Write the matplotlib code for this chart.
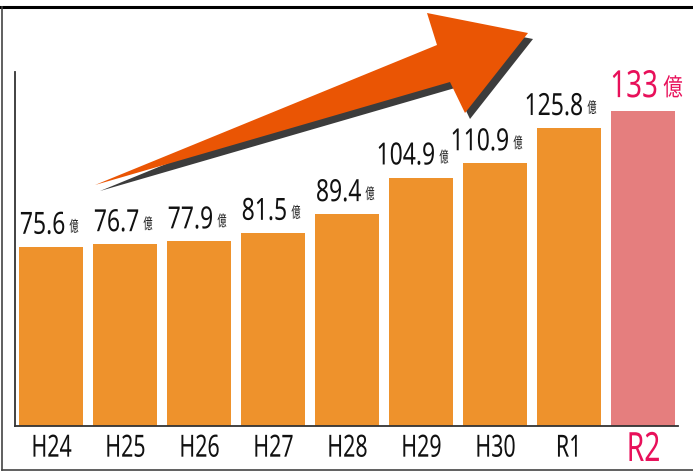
import os
import matplotlib
matplotlib.use('Agg')
import matplotlib.pyplot as plt
from matplotlib import font_manager
from matplotlib.font_manager import FontProperties
from matplotlib.patches import Polygon
from matplotlib.lines import Line2D
from matplotlib.patheffects import AbstractPathEffect
from matplotlib.transforms import Affine2D

# data
years = ['H24', 'H25', 'H26', 'H27', 'H28', 'H29', 'H30', 'R1', 'R2']
values = [75.6, 76.7, 77.9, 81.5, 89.4, 104.9, 110.9, 125.8, 133]
labels = ['75.6', '76.7', '77.9', '81.5', '89.4', '104.9', '110.9', '125.8', '133']
unit = '億'

ORANGE = '#EE922C'
PINK_BAR = '#E57E7E'
PINK_TXT = '#E8105A'
ARROW = '#EA5504'
INK = '#111111'

cjk = ['Noto Sans CJK JP', 'DejaVu Sans']

# look for a condensed latin face (the original labels use a narrow font)
cond_file = None
for f in font_manager.fontManager.ttflist:
    if os.path.basename(f.fname) in ('NotoSans-Condensed.ttf', 'NotoSans-Condensed.otf'):
        cond_file = f.fname
        break


class Squeeze(AbstractPathEffect):
    """narrow the glyphs horizontally"""

    def __init__(self, sx, anchor='center'):
        super().__init__()
        self.sx = sx
        self.anchor = anchor

    def draw_path(self, renderer, gc, tpath, affine, rgbFace=None):
        ext = tpath.get_extents()
        if self.anchor == 'left':
            cx = ext.x0
        elif self.anchor == 'right':
            cx = ext.x1
        else:
            cx = (ext.x0 + ext.x1) / 2
        t = Affine2D().translate(-cx, 0).scale(self.sx, 1).translate(cx, 0)
        renderer.draw_path(gc, tpath, t + affine, rgbFace)


def latin(size):
    if cond_file:
        return FontProperties(fname=cond_file, size=size)
    return FontProperties(family=['Noto Sans', 'DejaVu Sans'], size=size)


def narrow(txt, sx, anchor='center'):
    # only needed when no condensed face is installed
    if not cond_file:
        txt.set_path_effects([Squeeze(sx, anchor)])


W, H = 693, 471
fig = plt.figure(figsize=(W / 100, H / 100), dpi=100)
ax = fig.add_axes([15 / W, 1 - 425.7 / H, 663 / W, 353.7 / H])

colors = [ORANGE] * (len(years) - 1) + [PINK_BAR]
x = list(range(len(years)))
ax.bar(x, values, width=0.86, color=colors, zorder=2)

ax.set_xlim(-0.49, 8.47)
ax.set_ylim(0, 149.5)

for s in ['top', 'right']:
    ax.spines[s].set_visible(False)
for s in ['left', 'bottom']:
    ax.spines[s].set_color('#333333')
    ax.spines[s].set_linewidth(1.3)
ax.set_yticks([])
ax.set_xticks([])

# category labels under the axis
for i, yr in enumerate(years):
    last = i == len(years) - 1
    t = ax.annotate(yr, (i, 0), xycoords=('data', 'axes fraction'),
                    xytext=(0, -25.4 if last else -22.3), textcoords='offset points',
                    ha='center', va='baseline', fontproperties=latin(29 if last else 22),
                    color=PINK_TXT if last else INK)
    narrow(t, 0.7)

# value labels
for i, (v, lab) in enumerate(zip(values, labels)):
    if i == len(values) - 1:
        t1 = ax.annotate(lab, (i, v), xytext=(10.8, 10), textcoords='offset points',
                         ha='right', va='baseline', fontproperties=latin(27), color=PINK_TXT)
        t2 = ax.annotate(unit, (i, v), xytext=(14.4, 11.2), textcoords='offset points',
                         ha='left', va='baseline', family=cjk, fontsize=17.5, color=PINK_TXT)
        narrow(t1, 0.74, 'right')
        t2.set_path_effects([Squeeze(0.8, 'left')])
    else:
        t1 = ax.annotate(lab, (i, v), xytext=(10.4, 9.4), textcoords='offset points',
                         ha='right', va='baseline', fontproperties=latin(22), color=INK)
        t2 = ax.annotate(unit, (i, v), xytext=(13, 11), textcoords='offset points',
                         ha='left', va='baseline', family=cjk, fontsize=11, color=INK)
        narrow(t1, 0.75, 'right')
        t2.set_path_effects([Squeeze(0.6, 'left')])

# big arrow with shadow (figure pixels, y measured from top)
arrow_px = [(95, 185), (437, 45), (427, 13), (528, 33), (465, 113), (450, 82)]


def to_fig(pts, dx=0, dy=0):
    return [((px + dx) / W, 1 - (py + dy) / H) for px, py in pts]


fig.patches.append(Polygon(to_fig(arrow_px, 5, 6), closed=True, transform=fig.transFigure,
                           facecolor='#3c3c3c', edgecolor='none', zorder=5))
fig.patches.append(Polygon(to_fig(arrow_px), closed=True, transform=fig.transFigure,
                           facecolor=ARROW, edgecolor='none', zorder=6))

# frame around the picture
fig.lines.append(Line2D([0, 1], [1 - 6.5 / H, 1 - 6.5 / H], transform=fig.transFigure,
                        color='black', linewidth=2.2))
fig.lines.append(Line2D([1.5 / W, 1.5 / W], [1 - 6.5 / H, 1 - 470 / H], transform=fig.transFigure,
                        color='#444444', linewidth=1.2))
fig.lines.append(Line2D([1.5 / W, 1], [1 - 470 / H, 1 - 470 / H], transform=fig.transFigure,
                        color='#444444', linewidth=1.2))

fig.savefig('out.png', dpi=100)
